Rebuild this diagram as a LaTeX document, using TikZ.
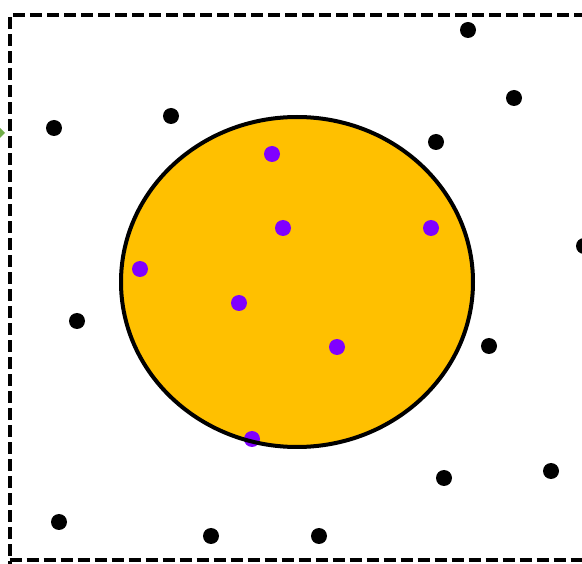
\documentclass[tikz,border=0pt]{standalone}
\usetikzlibrary{shapes.geometric}
\definecolor{gold}{HTML}{FFC000}
\definecolor{violet}{HTML}{8000FF}
\definecolor{leaf}{HTML}{70AD47}
\tikzset{
  blackdot/.style={circle,fill=black,inner sep=0pt,minimum size=16pt},
  purpledot/.style={circle,fill=violet,inner sep=0pt,minimum size=16pt},
  frame/.style={draw=black,line width=4pt,dash pattern=on 12pt off 5pt},
}
\begin{document}
\begin{tikzpicture}[x=1pt,y=-1pt]
\useasboundingbox (0,0) rectangle (582,564);
\clip (0,0) rectangle (582,564);
\fill[white] (0,0) rectangle (582,564);
\draw[frame] (9.5,590) -- (9.5,15.5) -- (600,15.5);
\draw[frame] (9.5,559.5) -- (600,559.5);
\fill[leaf] (0,128) -- (5,133) -- (0,138) -- cycle;
\fill[gold] (297,282) ellipse [x radius=176, y radius=165];
\foreach \n/\x/\y in {p1/272/154, p2/283/228, p3/431/228, p4/140/269, p5/239/303, p6/337/347, p7/252/439}
  \node[purpledot] (\n) at (\x,\y) {};
\draw[line width=4pt] (297,282) ellipse [x radius=176, y radius=165];
\foreach \n/\x/\y in {b1/468/30, b2/514/98, b3/54/128, b4/171/116, b5/436/142, b6/584/246, b7/77/321, b8/489/346, b9/444/478, b10/551/471, b11/59/522, b12/211/536, b13/319/536}
  \node[blackdot] (\n) at (\x,\y) {};
\end{tikzpicture}
\end{document}
